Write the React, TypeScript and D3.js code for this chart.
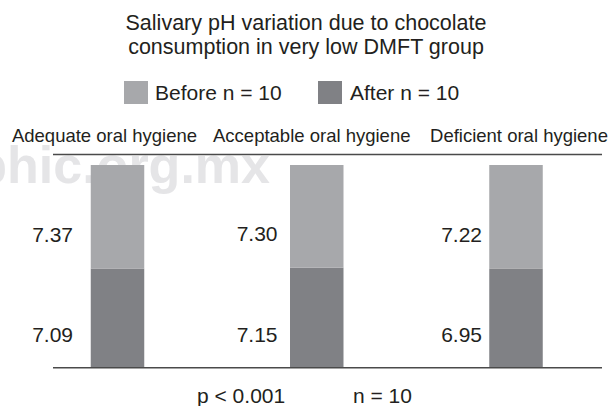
import React from "react";
import * as d3 from "d3";

const categories = ["Adequate oral hygiene", "Acceptable oral hygiene", "Deficient oral hygiene"];
const beforeValues = [7.37, 7.3, 7.22];
const afterValues = [7.09, 7.15, 6.95];
const seriesKeys = ["after", "before"];
const legendLabels = ["Before n = 10", "After n = 10"];
const titleLines = ["Salivary pH variation due to chocolate", "consumption in very low DMFT group"];
const footerTexts = ["p < 0.001", "n = 10"];

const W = 611;
const H = 406;
const FONT = "'Liberation Sans', Arial, Helvetica, sans-serif";
const TEXT = "#231f20";
const LIGHT = "#a7a8ab";
const DARK = "#808185";
const LINE = "#4a4a4a";

export default function App() {
  const rows = categories.map((c, i) => ({ cat: c, after: afterValues[i], before: beforeValues[i] }));
  const stack = d3.stack<any>().keys(seriesKeys).offset(d3.stackOffsetExpand);
  const series = stack(rows);

  const y = d3.scaleLinear().domain([0, 1]).range([368, 165]);
  const xBar = d3.scalePoint<string>().domain(categories).range([117.5, 516]);
  const xHead = d3.scalePoint<string>().domain(categories).range([104.5, 519]);
  const xLabel = d3.scalePoint<string>().domain(categories).range([73, 482]);
  const barW = 53.5;
  const color: Record<string, string> = { after: DARK, before: LIGHT };
  const valueOf: Record<string, number[]> = { after: afterValues, before: beforeValues };

  return (
    <svg width={W} height={H} style={{ position: "absolute", left: 0, top: 0, background: "#fff" }} fontFamily={FONT}>
      <rect x={0} y={0} width={W} height={H} fill="#fff" />
      {/* watermark */}
      <text x={270} y={183} textAnchor="end" fontSize={52} fontWeight="bold" fill="#e5e5e7">
        phic.org.mx
      </text>
      {/* title */}
      {titleLines.map((t, i) => (
        <text key={t} x={306} y={29.5 + i * 24} textAnchor="middle" fontSize={21.5} fill={TEXT}>
          {t}
        </text>
      ))}
      {/* legend */}
      <rect x={124} y={81} width={24} height={23} fill={LIGHT} />
      <text x={155} y={100} fontSize={21} fill={TEXT}>{legendLabels[0]}</text>
      <rect x={318} y={81} width={24} height={23} fill={DARK} />
      <text x={350} y={100} fontSize={21} fill={TEXT}>{legendLabels[1]}</text>
      {/* headers */}
      {categories.map((c) => (
        <text key={c} x={xHead(c)} y={141.5} textAnchor="middle" fontSize={18.5} fill={TEXT}>
          {c}
        </text>
      ))}
      <line x1={53} x2={602} y1={154.5} y2={154.5} stroke={LINE} strokeWidth={1.5} />
      {/* bars */}
      {series.map((s) => (
        <g key={s.key}>
          {s.map((d, i) => {
            const c = categories[i];
            const cx = xBar(c) as number;
            return (
              <g key={c}>
                <rect x={cx - barW / 2} y={y(d[1])} width={barW} height={y(d[0]) - y(d[1])} fill={color[s.key]} />
                <text x={xLabel(c)} y={y(d[0]) - 26.5} textAnchor="end" fontSize={21} fill={TEXT}>
                  {valueOf[s.key][i].toFixed(2)}
                </text>
              </g>
            );
          })}
        </g>
      ))}
      <line x1={53} x2={602} y1={367.7} y2={367.7} stroke={LINE} strokeWidth={1.5} />
      {/* footer */}
      <text x={197} y={403} fontSize={21} fill={TEXT}>{footerTexts[0]}</text>
      <text x={353} y={403} fontSize={21} fill={TEXT}>{footerTexts[1]}</text>
    </svg>
  );
}
